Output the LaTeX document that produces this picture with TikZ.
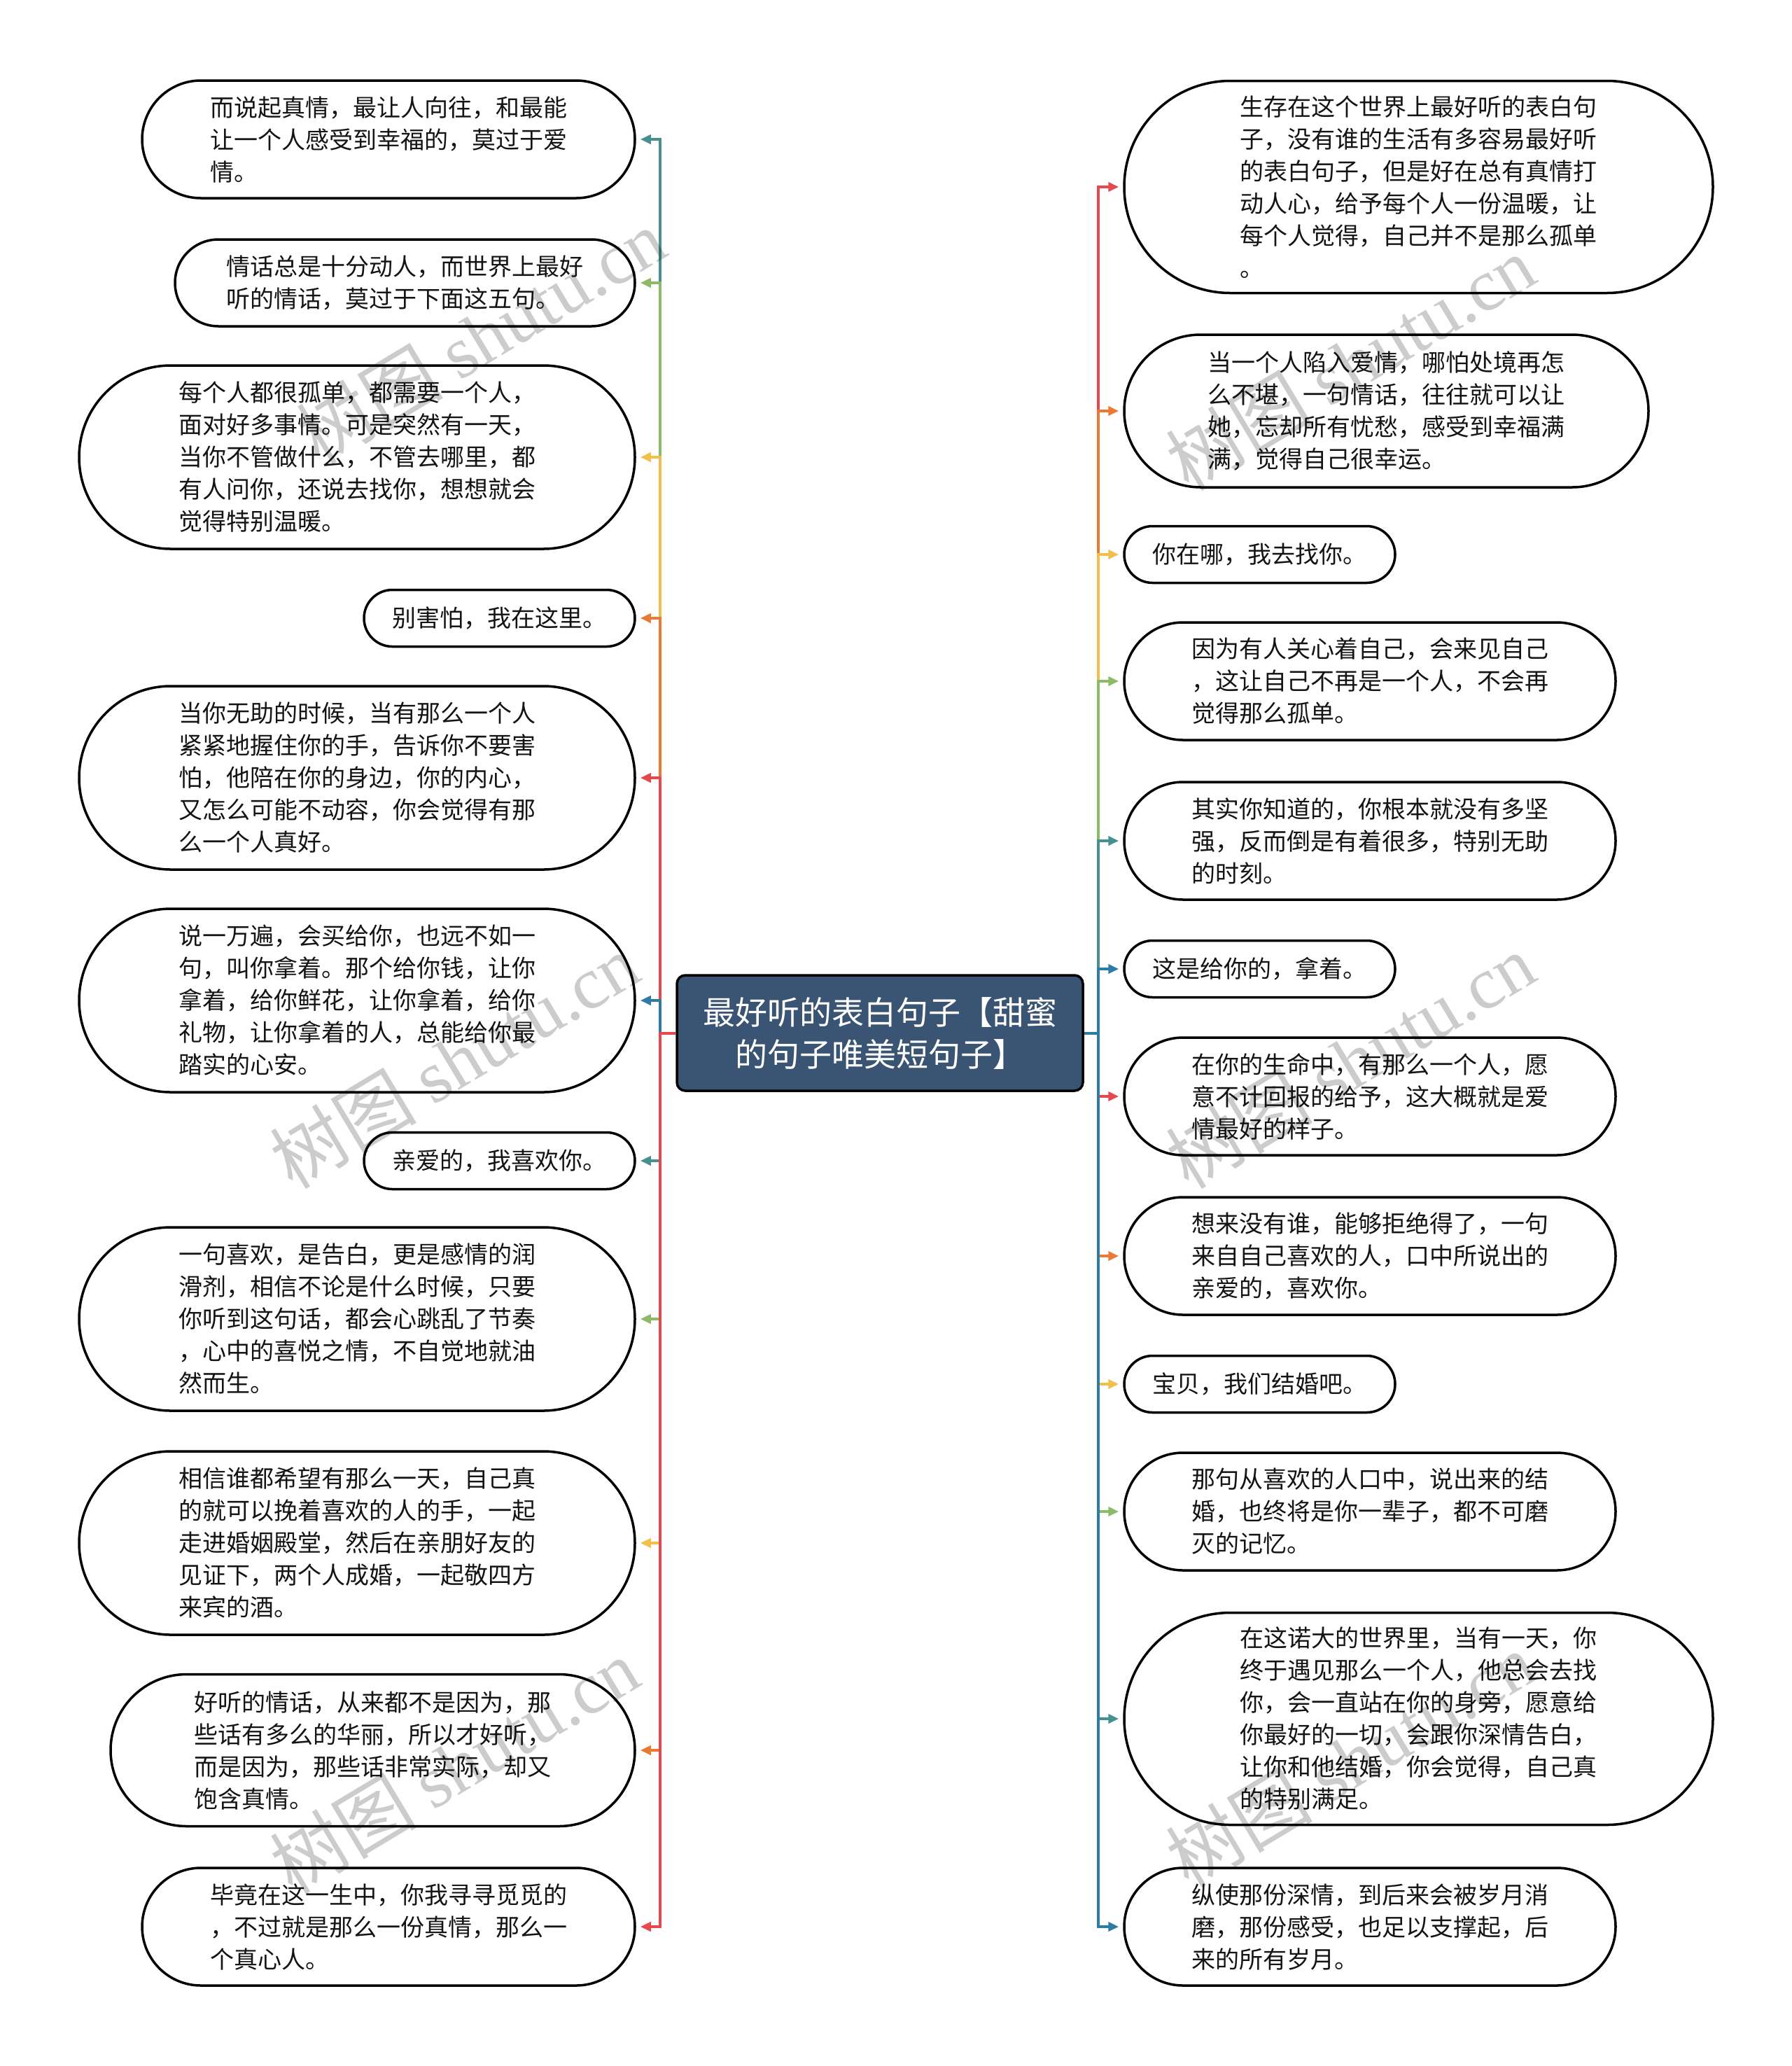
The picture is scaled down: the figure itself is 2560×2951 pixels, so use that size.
\documentclass[tikz,border=0pt]{standalone}
\usepackage{fontspec}
\setmainfont{Noto Sans CJK SC}
\newfontfamily\wmlatin{Liberation Serif}
\usetikzlibrary{arrows.meta}
\definecolor{cRed}{HTML}{E5484D}
\definecolor{cOrange}{HTML}{E97A35}
\definecolor{cYellow}{HTML}{F2C04A}
\definecolor{cGreen}{HTML}{8CBB68}
\definecolor{cTeal}{HTML}{46908F}
\definecolor{cBlue}{HTML}{2C7CA6}
\definecolor{cRoot}{HTML}{3A5573}
\begin{document}
\begin{tikzpicture}[x=1pt,y=-1pt,
  leaf/.style={draw=black, line width=3.5pt, fill=white, inner sep=0pt, align=left,
    text=black!92, font=\fontsize{34}{46}\selectfont},
  root/.style={draw=black, line width=3.5pt, fill=cRoot, rounded corners=12pt, text=white,
    align=center, inner sep=0pt, font=\fontsize{46}{60}\selectfont,
    minimum width=580pt, minimum height=165pt},
  conn/.style={draw=#1, line width=4pt, -{Triangle[length=15pt,width=13pt]}, shorten >=6pt},
  wm/.style={text=black, text opacity=0.2, rotate=31, inner sep=0pt,
    font=\fontsize{105}{110}\selectfont}
]
\useasboundingbox (0,0) rectangle (2560,2951);

\node[root] (C) at (1257,1475.5) {最好听的表白句子【甜蜜\\的句子唯美短句子】};

% left nodes
\node[leaf, minimum width=704pt, minimum height=168pt, rounded corners=84pt] (L1) at (555,199) {而说起真情，最让人向往，和最能\\让一个人感受到幸福的，莫过于爱\\情。};
\node[leaf, minimum width=657pt, minimum height=124pt, rounded corners=62pt] (L2) at (578.5,404) {情话总是十分动人，而世界上最好\\听的情话，莫过于下面这五句。};
\node[leaf, minimum width=794pt, minimum height=262pt, rounded corners=131pt] (L3) at (510,653) {每个人都很孤单，都需要一个人，\\面对好多事情。可是突然有一天，\\当你不管做什么，不管去哪里，都\\有人问你，还说去找你，想想就会\\觉得特别温暖。};
\node[leaf, minimum width=387pt, minimum height=81pt, rounded corners=40.5pt] (L4) at (713.5,883) {别害怕，我在这里。};
\node[leaf, minimum width=794pt, minimum height=262pt, rounded corners=131pt] (L5) at (510,1111) {当你无助的时候，当有那么一个人\\紧紧地握住你的手，告诉你不要害\\怕，他陪在你的身边，你的内心，\\又怎么可能不动容，你会觉得有那\\么一个人真好。};
\node[leaf, minimum width=794pt, minimum height=262pt, rounded corners=131pt] (L6) at (510,1429) {说一万遍，会买给你，也远不如一\\句，叫你拿着。那个给你钱，让你\\拿着，给你鲜花，让你拿着，给你\\礼物，让你拿着的人，总能给你最\\踏实的心安。};
\node[leaf, minimum width=387pt, minimum height=81pt, rounded corners=40.5pt] (L7) at (713.5,1658) {亲爱的，我喜欢你。};
\node[leaf, minimum width=794pt, minimum height=262pt, rounded corners=131pt] (L8) at (510,1884) {一句喜欢，是告白，更是感情的润\\滑剂，相信不论是什么时候，只要\\你听到这句话，都会心跳乱了节奏\\，心中的喜悦之情，不自觉地就油\\然而生。};
\node[leaf, minimum width=794pt, minimum height=262pt, rounded corners=131pt] (L9) at (510,2204) {相信谁都希望有那么一天，自己真\\的就可以挽着喜欢的人的手，一起\\走进婚姻殿堂，然后在亲朋好友的\\见证下，两个人成婚，一起敬四方\\来宾的酒。};
\node[leaf, minimum width=749pt, minimum height=217pt, rounded corners=108.5pt] (L10) at (532.5,2500) {好听的情话，从来都不是因为，那\\些话有多么的华丽，所以才好听，\\而是因为，那些话非常实际，却又\\饱含真情。};
\node[leaf, minimum width=704pt, minimum height=168pt, rounded corners=84pt] (L11) at (555,2752) {毕竟在这一生中，你我寻寻觅觅的\\，不过就是那么一份真情，那么一\\个真心人。};

% right nodes
\node[leaf, minimum width=841pt, minimum height=303pt, rounded corners=151.5pt] (R1) at (2026.5,267) {生存在这个世界上最好听的表白句\\子，没有谁的生活有多容易最好听\\的表白句子，但是好在总有真情打\\动人心，给予每个人一份温暖，让\\每个人觉得，自己并不是那么孤单\\。};
\node[leaf, minimum width=749pt, minimum height=218pt, rounded corners=109pt] (R2) at (1980.5,587) {当一个人陷入爱情，哪怕处境再怎\\么不堪，一句情话，往往就可以让\\她，忘却所有忧愁，感受到幸福满\\满，觉得自己很幸运。};
\node[leaf, minimum width=387pt, minimum height=81pt, rounded corners=40.5pt] (R3) at (1799.5,792) {你在哪，我去找你。};
\node[leaf, minimum width=702pt, minimum height=168pt, rounded corners=84pt] (R4) at (1957,973) {因为有人关心着自己，会来见自己\\，这让自己不再是一个人，不会再\\觉得那么孤单。};
\node[leaf, minimum width=702pt, minimum height=168pt, rounded corners=84pt] (R5) at (1957,1201) {其实你知道的，你根本就没有多坚\\强，反而倒是有着很多，特别无助\\的时刻。};
\node[leaf, minimum width=387pt, minimum height=81pt, rounded corners=40.5pt] (R6) at (1799.5,1384) {这是给你的，拿着。};
\node[leaf, minimum width=702pt, minimum height=168pt, rounded corners=84pt] (R7) at (1957,1566) {在你的生命中，有那么一个人，愿\\意不计回报的给予，这大概就是爱\\情最好的样子。};
\node[leaf, minimum width=702pt, minimum height=168pt, rounded corners=84pt] (R8) at (1957,1794) {想来没有谁，能够拒绝得了，一句\\来自自己喜欢的人，口中所说出的\\亲爱的，喜欢你。};
\node[leaf, minimum width=387pt, minimum height=81pt, rounded corners=40.5pt] (R9) at (1799.5,1977) {宝贝，我们结婚吧。};
\node[leaf, minimum width=702pt, minimum height=168pt, rounded corners=84pt] (R10) at (1957,2159) {那句从喜欢的人口中，说出来的结\\婚，也终将是你一辈子，都不可磨\\灭的记忆。};
\node[leaf, minimum width=841pt, minimum height=303pt, rounded corners=151.5pt] (R11) at (2026.5,2455) {在这诺大的世界里，当有一天，你\\终于遇见那么一个人，他总会去找\\你，会一直站在你的身旁，愿意给\\你最好的一切，会跟你深情告白，\\让你和他结婚，你会觉得，自己真\\的特别满足。};
\node[leaf, minimum width=702pt, minimum height=168pt, rounded corners=84pt] (R12) at (1957,2752) {纵使那份深情，到后来会被岁月消\\磨，那份感受，也足以支撑起，后\\来的所有岁月。};

% connectors left (drawn top to bottom)
\foreach \n/\c in {L1/cTeal,L2/cGreen,L3/cYellow,L4/cOrange,L5/cRed,L6/cBlue,L7/cTeal,L8/cGreen,L9/cYellow,L10/cOrange,L11/cRed}
  \draw[conn=\c] (C.west) -- ++(-22,0) |- (\n.east);
% connectors right
\foreach \n/\c in {R1/cRed,R2/cOrange,R3/cYellow,R4/cGreen,R5/cTeal,R6/cBlue,R7/cRed,R8/cOrange,R9/cYellow,R10/cGreen,R11/cTeal,R12/cBlue}
  \draw[conn=\c] (C.east) -- ++(20,0) |- (\n.west);

% watermarks
\foreach \p [count=\i] in {(687,480),(649,1515),(649,2522),(1929,518),(1929,1515),(1929,2513)}
  \node[wm] (W\i) at \p {树图 {\wmlatin shutu.cn}};
\end{tikzpicture}
\end{document}
